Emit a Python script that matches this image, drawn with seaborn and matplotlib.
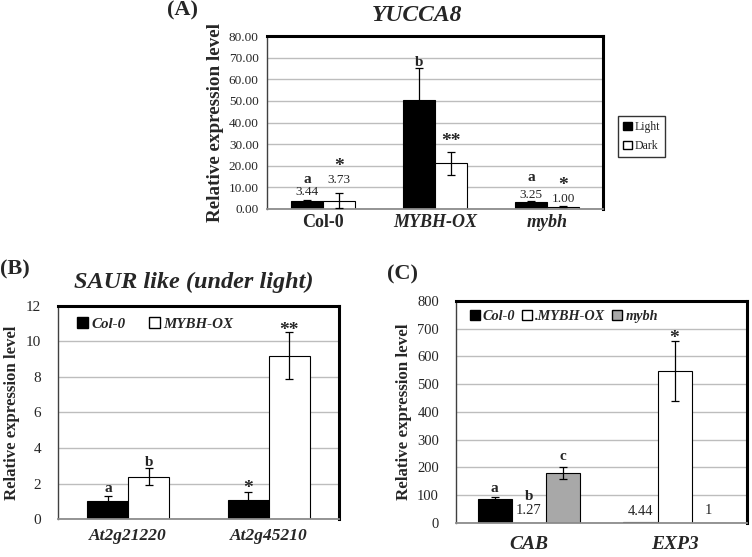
import pandas as pd
import seaborn as sns
import matplotlib.pyplot as plt
from matplotlib.patches import Patch

# Panel A data (YUCCA8)
a_genotypes = ['Col-0', 'MYBH-OX', 'mybh']
a_light = [3.44, 50.3, 3.25]
a_light_err = [0.8, 14.8, 0.35]
a_dark = [3.73, 21.1, 1.00]
a_dark_err = [3.4, 5.3, 0.2]
a_light_marks = ['a', 'b', 'a']
a_light_nums = ['3.44', '', '3.25']
a_dark_marks = ['*', '**', '*']
a_dark_nums = ['3.73', '', '1.00']

# Panel B data (SAUR like)
b_genes = ['At2g21220', 'At2g45210']
b_col0 = [1.0, 1.1]
b_col0_err = [0.3, 0.42]
b_ox = [2.38, 9.2]
b_ox_err = [0.48, 1.3]
b_col0_marks = ['a', '*']
b_ox_marks = ['b', '**']

# Panel C data (CAB / EXP3)
c_genes = ['CAB', 'EXP3']
c_col0 = [85, 4.44]
c_col0_err = [10, 0]
c_ox = [1.27, 548]
c_ox_err = [0, 107]
c_mybh = [180, 1]
c_mybh_err = [22, 0]
c_col0_marks = ['a', '']
c_ox_marks = ['b', '*']
c_mybh_marks = ['c', '']
c_col0_nums = ['', '4.44']
c_ox_nums = ['1.27', '']
c_mybh_nums = ['', '1']

SERIF = 'Liberation Serif'
sns.set_style('white')
plt.rcParams['font.family'] = [SERIF, 'DejaVu Serif']


def make_df(cats, groups, values):
    rows = []
    for g, vals in zip(groups, values):
        for c, v in zip(cats, vals):
            rows.append({'cat': c, 'group': g, 'value': v})
    return pd.DataFrame(rows)


def style_axes(ax):
    ax.set_axisbelow(True)
    ax.yaxis.grid(True, color='#bdbdbd', linewidth=1.0)
    ax.xaxis.grid(False)
    for side in ['top', 'right']:
        ax.spines[side].set_linewidth(2.2)
        ax.spines[side].set_color('black')
    ax.spines['left'].set_color('#404040')
    ax.spines['left'].set_linewidth(1.0)
    ax.spines['bottom'].set_color('#8c8c8c')
    ax.spines['bottom'].set_linewidth(1.3)
    ax.set_xlabel('')


def add_errors(ax, errs):
    for cont, err in zip(ax.containers, errs):
        for patch, e in zip(cont, err):
            if e > 0:
                x = patch.get_x() + patch.get_width() / 2
                ax.errorbar(x, patch.get_height(), yerr=e, fmt='none',
                            ecolor='black', elinewidth=0.9, capsize=3, capthick=0.9, zorder=5)


def put_label(ax, patch, err, text, offset, size, bold=True):
    # text baseline sits `offset` points above the top of the error bar
    if text.startswith('*'):
        size = 14
    x = patch.get_x() + patch.get_width() / 2
    ax.annotate(text, (x, patch.get_height() + err), xytext=(0, offset),
                textcoords='offset points', ha='center', va='baseline',
                fontsize=size, fontweight='bold' if bold else 'normal')


fig = plt.figure(figsize=(7.52, 5.57), dpi=100)

# ---------- Panel A ----------
axA = fig.add_axes([0.355, 0.625, 0.447, 0.310])
dfA = make_df(a_genotypes, ['Light', 'Dark'], [a_light, a_dark])
sns.barplot(data=dfA, x='cat', y='value', hue='group', palette={'Light': 'black', 'Dark': 'white'},
            edgecolor='black', linewidth=0.8, width=0.57, errorbar=None, legend=False, ax=axA)
style_axes(axA)
axA.set_ylim(0, 80)
axA.set_yticks(range(0, 81, 10))
axA.set_yticklabels([f'{v:.2f}' for v in range(0, 81, 10)], fontsize=9.5)
axA.set_xlim(-0.5, 2.5)
axA.tick_params(axis='y', length=3, color='#404040', pad=3)
axA.tick_params(axis='x', length=0, pad=4)
axA.set_xticks(range(3))
axA.set_xticklabels(a_genotypes, fontsize=13, fontweight='bold')
for lab in axA.get_xticklabels()[1:]:
    lab.set_fontstyle('italic')
axA.set_ylabel('Relative expression level', fontsize=13.8, fontweight='bold', labelpad=3)
add_errors(axA, [a_light_err, a_dark_err])
a_mark_off = [[12, 2, 14.4], [16.5, 4, 12]]
a_num_off = [[3.2, 0, 2.5], [7.5, 0, 3.2]]
for cont, err, marks, nums, moff, noff in zip(axA.containers, [a_light_err, a_dark_err],
                                               [a_light_marks, a_dark_marks],
                                               [a_light_nums, a_dark_nums], a_mark_off, a_num_off):
    for i, patch in enumerate(cont):
        if nums[i]:
            put_label(axA, patch, err[i], nums[i], noff[i], 9.5, bold=False)
        put_label(axA, patch, err[i], marks[i], moff[i], 11)
fig.text(0.555, 0.973, 'YUCCA8', fontsize=17, fontweight='bold', fontstyle='italic',
         ha='center', va='center')
fig.legend(handles=[Patch(facecolor='black', edgecolor='black', label='Light'),
                    Patch(facecolor='white', edgecolor='black', label='Dark')],
           loc='center left', bbox_to_anchor=(0.822, 0.755), fontsize=8.5, frameon=True,
           fancybox=False, edgecolor='black', handlelength=0.7, handleheight=0.7,
           handletextpad=0.25, borderpad=0.45, labelspacing=0.6, borderaxespad=0)
fig.text(0.222, 0.982, '(A)', fontsize=16, fontweight='bold', ha='left', va='center')

# ---------- Panel B ----------
axB = fig.add_axes([0.077, 0.068, 0.374, 0.383])
dfB = make_df(b_genes, ['Col-0', 'MYBH-OX'], [b_col0, b_ox])
sns.barplot(data=dfB, x='cat', y='value', hue='group', palette={'Col-0': 'black', 'MYBH-OX': 'white'},
            edgecolor='black', linewidth=0.8, width=0.58, errorbar=None, legend=False, ax=axB)
style_axes(axB)
axB.set_ylim(0, 12)
axB.set_yticks(range(0, 13, 2))
axB.tick_params(axis='y', labelsize=11, length=4, color='#404040', pad=8)
axB.set_xlim(-0.5, 1.5)
axB.set_xticks([0, 1])
axB.set_xticklabels(b_genes, fontsize=12.5, fontweight='bold', fontstyle='italic')
axB.set_xticks([-0.5, 0.5, 1.5], minor=True)
axB.tick_params(axis='x', which='major', length=0, pad=6.5)
axB.tick_params(axis='x', which='minor', length=4, color='#8c8c8c', direction='out')
axB.set_ylabel('Relative expression level', fontsize=12.1, fontweight='bold', labelpad=4)
add_errors(axB, [b_col0_err, b_ox_err])
b_mark_off = [[3, -0.5], [1.5, -1.5]]
for cont, err, marks, moff in zip(axB.containers, [b_col0_err, b_ox_err],
                                  [b_col0_marks, b_ox_marks], b_mark_off):
    for i, patch in enumerate(cont):
        put_label(axB, patch, err[i], marks[i], moff[i], 11)
axB.legend(handles=[Patch(facecolor='black', edgecolor='black', label='Col-0'),
                    Patch(facecolor='white', edgecolor='black', label='MYBH-OX')],
           loc='center left', bbox_to_anchor=(0.068, 0.915), ncol=2, frameon=False,
           prop={'family': SERIF, 'size': 10.8, 'weight': 'bold', 'style': 'italic'},
           handlelength=0.7, handleheight=0.7, handletextpad=0.25, columnspacing=1.6,
           borderpad=0, borderaxespad=0)
fig.text(0.257, 1 - 282 / 557, 'SAUR like (under light)', fontsize=17.5, fontweight='bold',
         fontstyle='italic', ha='center', va='center')
fig.text(0.0, 1 - 269 / 557, '(B)', fontsize=16, fontweight='bold', ha='left', va='center')

# ---------- Panel C ----------
axC = fig.add_axes([0.606, 0.061, 0.388, 0.399])
dfC = make_df(c_genes, ['Col-0', '.MYBH-OX', 'mybh'], [c_col0, c_ox, c_mybh])
sns.barplot(data=dfC, x='cat', y='value', hue='group',
            palette={'Col-0': 'black', '.MYBH-OX': 'white', 'mybh': '#a8a8a8'},
            edgecolor='black', linewidth=0.8, width=0.7, errorbar=None, legend=False, ax=axC)
style_axes(axC)
axC.set_ylim(0, 800)
axC.set_yticks(range(0, 801, 100))
axC.tick_params(axis='y', labelsize=10.5, length=4, color='#404040', pad=8)
axC.set_xlim(-0.5, 1.5)
axC.set_xticks([0, 1])
axC.set_xticklabels(c_genes, fontsize=14, fontweight='bold', fontstyle='italic')
axC.set_xticks([-0.5, 0.5, 1.5], minor=True)
axC.tick_params(axis='x', which='major', length=0, pad=9)
axC.tick_params(axis='x', which='minor', length=4, color='#8c8c8c', direction='out')
axC.set_ylabel('Relative expression level', fontsize=12.2, fontweight='bold', labelpad=4)
errsC = [c_col0_err, c_ox_err, c_mybh_err]
add_errors(axC, errsC)
c_mark_off = [[3, 0], [16.5, -1.5], [5, 0]]
c_num_off = [[0, 5], [6, 0], [0, 6]]
for cont, err, marks, nums, moff, noff in zip(axC.containers, errsC,
                                               [c_col0_marks, c_ox_marks, c_mybh_marks],
                                               [c_col0_nums, c_ox_nums, c_mybh_nums],
                                               c_mark_off, c_num_off):
    for i, patch in enumerate(cont):
        if nums[i]:
            put_label(axC, patch, err[i], nums[i], noff[i], 10.5, bold=False)
        if marks[i]:
            put_label(axC, patch, err[i], marks[i], moff[i], 11)
axC.legend(handles=[Patch(facecolor='black', edgecolor='black', label='Col-0'),
                    Patch(facecolor='white', edgecolor='black', label='.MYBH-OX'),
                    Patch(facecolor='#a8a8a8', edgecolor='black', label='mybh')],
           loc='center left', bbox_to_anchor=(0.048, 0.928), ncol=3, frameon=False,
           prop={'family': SERIF, 'size': 10.3, 'weight': 'bold', 'style': 'italic'},
           handlelength=0.7, handleheight=0.7, handletextpad=0.2, columnspacing=0.5,
           borderpad=0, borderaxespad=0)
fig.text(387 / 752, 1 - 274 / 557, '(C)', fontsize=16, fontweight='bold', ha='left', va='center')

fig.savefig('out.png', dpi=100)
